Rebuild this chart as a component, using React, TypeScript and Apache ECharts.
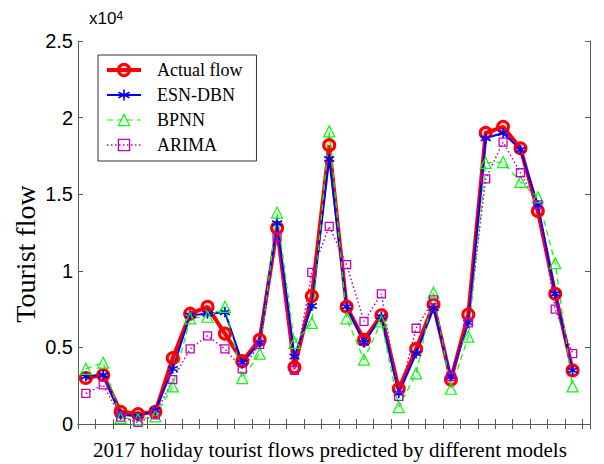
import React, { useEffect, useRef } from "react";
import * as echarts from "echarts";

const xIndex = [1, 2, 3, 4, 5, 6, 7, 8, 9, 10, 11, 12, 13, 14, 15, 16, 17, 18, 19, 20, 21, 22, 23, 24, 25, 26, 27, 28, 29];
const actualFlow = [3000, 3200, 800, 650, 800, 4300, 7200, 7650, 5900, 4100, 5500, 12800, 3700, 8350, 18200, 7660, 5500, 7100, 2300, 4900, 7800, 2900, 7150, 19000, 19400, 18000, 13900, 8500, 3500];
const esnDbn = [3100, 3200, 600, 500, 900, 3600, 7100, 7200, 7300, 4000, 5300, 13100, 4400, 7700, 17300, 7660, 5300, 7000, 2000, 4600, 7550, 3100, 6600, 18650, 19000, 17900, 14300, 8500, 3500];
const bpnn = [3600, 4000, 400, 300, 500, 2450, 6900, 7000, 7650, 3000, 4600, 13800, 5300, 6600, 19100, 6900, 4200, 6700, 1100, 3300, 8570, 2300, 5700, 17050, 17100, 15800, 14800, 10500, 2450];
const arima = [2000, 2550, 450, 100, 600, 2900, 4900, 5750, 4900, 3600, 5200, 12200, 3500, 9900, 12900, 10400, 6700, 8500, 1800, 6250, 8100, 3100, 6600, 16000, 18400, 16400, 14300, 7500, 4600];
const yTicks = [0, 5000, 10000, 15000, 20000, 25000];

const seriesNames = ["Actual flow", "ESN-DBN", "BPNN", "ARIMA"];

const asteriskPath = "path://M5,0L5,10M0.67,2.5L9.33,7.5M0.67,7.5L9.33,2.5";

export default function App() {
  const ref = useRef<HTMLDivElement>(null);
  useEffect(() => {
    if (!ref.current) return;
    const chart = echarts.init(ref.current, undefined, { renderer: "svg" });
    const pair = (arr: number[]) => arr.map((v, i) => [xIndex[i], v]);
    const axisColor = "#5a5a5a";
    const yMax = yTicks[yTicks.length - 1];
    const yInt = yTicks[1] - yTicks[0];
    const xAxisBase = {
      type: "value",
      min: 0.55,
      max: 30,
      interval: 1,
      axisLine: { show: true, lineStyle: { color: axisColor, width: 1 } },
      axisTick: { show: true, inside: true, length: 5, lineStyle: { color: axisColor } },
      axisLabel: { show: false },
      splitLine: { show: false },
    };
    chart.setOption({
      animation: false,
      backgroundColor: "#ffffff",
      grid: { left: 78, top: 41, right: 14, bottom: 40, containLabel: false },
      xAxis: [
        { ...xAxisBase, position: "bottom" },
        { ...xAxisBase, position: "top" },
      ],
      yAxis: [
        {
          type: "value",
          min: 0,
          max: yMax,
          interval: yInt,
          position: "left",
          axisLine: { show: true, lineStyle: { color: axisColor, width: 1 } },
          axisTick: { show: true, inside: true, length: 5, lineStyle: { color: axisColor } },
          axisLabel: {
            show: true,
            margin: 5,
            color: "#000",
            fontFamily: "Liberation Sans, Arial, sans-serif",
            fontSize: 20,
            formatter: (v: number) => String(v / 10000),
          },
          splitLine: { show: false },
        },
        {
          type: "value",
          min: 0,
          max: yMax,
          interval: yInt,
          position: "right",
          axisLine: { show: true, lineStyle: { color: axisColor, width: 1 } },
          axisTick: { show: true, inside: true, length: 5, lineStyle: { color: axisColor } },
          axisLabel: { show: false },
          splitLine: { show: false },
        },
      ],
      legend: {
        orient: "vertical",
        left: 98,
        top: 55,
        data: seriesNames,
        backgroundColor: "#ffffff",
        borderColor: "#333",
        borderWidth: 1,
        padding: [6, 14, 7, 7],
        itemWidth: 34,
        itemHeight: 14,
        itemGap: 7,
        lineStyle: { width: "inherit" },
        itemStyle: { borderWidth: "inherit" },
        textStyle: {
          fontFamily: "Liberation Serif, Times New Roman, serif",
          fontSize: 18,
          color: "#000",
          padding: [0, 0, 0, 11],
        },
      },
      graphic: [
        {
          type: "text",
          left: 89,
          top: 10,
          style: {
            text: "{a|x10}{b|4}",
            rich: {
              a: { fontFamily: "Liberation Sans, Arial, sans-serif", fontSize: 17, fill: "#000", verticalAlign: "bottom" },
              b: { fontFamily: "Liberation Sans, Arial, sans-serif", fontSize: 12, fill: "#000", verticalAlign: "top" },
            },
          },
        },
        {
          type: "text",
          x: 25,
          y: 254,
          rotation: Math.PI / 2,
          style: {
            text: "Tourist flow",
            fontFamily: "Liberation Serif, Times New Roman, serif",
            fontSize: 28,
            fill: "#000",
            align: "center",
            verticalAlign: "middle",
          },
        },
        {
          type: "text",
          x: 330,
          y: 450,
          style: {
            text: "2017 holiday tourist flows predicted by different models",
            fontFamily: "Liberation Serif, Times New Roman, serif",
            fontSize: 21,
            fill: "#000",
            align: "center",
            verticalAlign: "middle",
          },
        },
      ],
      series: [
        {
          name: seriesNames[0],
          type: "line",
          data: pair(actualFlow),
          symbol: "circle",
          symbolSize: 11,
          showAllSymbol: true,
          lineStyle: { color: "#ff0000", width: 4 },
          itemStyle: { color: "rgba(255,0,0,0.15)", borderColor: "#ff0000", borderWidth: 3 },
          emphasis: { disabled: true },
        },
        {
          name: seriesNames[1],
          type: "line",
          data: pair(esnDbn),
          symbol: asteriskPath,
          symbolSize: 10,
          showAllSymbol: true,
          lineStyle: { color: "#0000ff", width: 2 },
          itemStyle: { color: "none", borderColor: "#0000ff", borderWidth: 1.6 },
          emphasis: { disabled: true },
        },
        {
          name: seriesNames[2],
          type: "line",
          data: pair(bpnn),
          symbol: "triangle",
          symbolSize: 11,
          showAllSymbol: true,
          lineStyle: { color: "#00ff00", width: 1.2, type: [6, 4] },
          itemStyle: { color: "none", borderColor: "#00ff00", borderWidth: 1.2 },
          emphasis: { disabled: true },
        },
        {
          name: seriesNames[3],
          type: "line",
          data: pair(arima),
          symbol: "rect",
          symbolSize: 8,
          showAllSymbol: true,
          lineStyle: { color: "#c000c0", width: 1.5, type: [1.5, 2.5] },
          itemStyle: { color: "none", borderColor: "#c000c0", borderWidth: 1.3 },
          emphasis: { disabled: true },
        },
      ],
    });
    return () => chart.dispose();
  }, []);
  return <div ref={ref} style={{ width: 604, height: 464, position: "absolute", left: 0, top: 0 }} />;
}
